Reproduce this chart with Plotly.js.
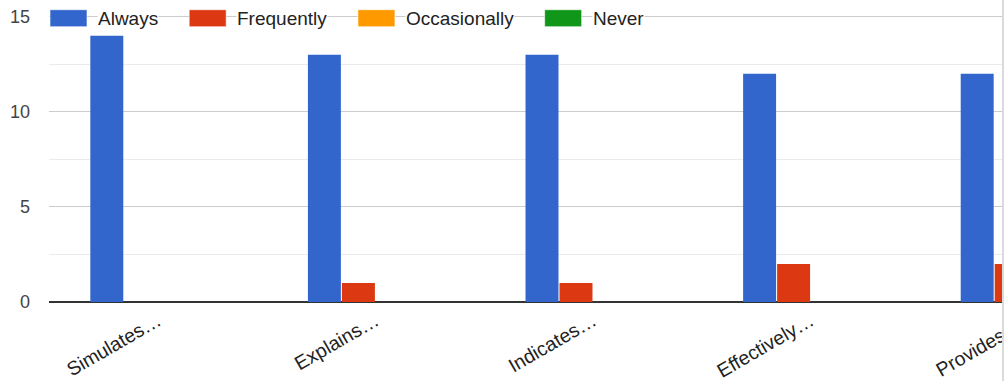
<!DOCTYPE html>
<html>
<head>
<meta charset="utf-8">
<script src="https://cdn.plot.ly/plotly-3.0.1.min.js"></script>
<style>
  html, body { margin: 0; padding: 0; background: #fff; overflow: hidden; }
  #wrap { width: 1002px; height: 381px; overflow: hidden; border-right: 2px solid #dadada; }
</style>
</head>
<body>
<div id="wrap"><div id="chart"></div></div>
<script>
// ---- data ----
const categories = ["Simulates\u2026", "Explains\u2026", "Indicates\u2026", "Effectively\u2026", "Provides t\u2026"];
const seriesNames = ["Always", "Frequently", "Occasionally", "Never"];
const always       = [14, 13, 13, 12, 12];
const frequently   = [0, 1, 1, 2, 2];
const occasionally = [0, 0, 0, 0, 0];
const never        = [0, 0, 0, 0, 0];
const colors = ["#3366cc", "#dc3912", "#ff9900", "#109618"];
const yTicks = [0, 5, 10, 15];

const seriesValues = [always, frequently, occasionally, never];
const FONT = "'Liberation Sans', Arial, sans-serif";

const traces = seriesNames.map((name, i) => ({
  type: "bar",
  name: name,
  x: categories,
  y: seriesValues[i],
  marker: { color: colors[i] },
  hoverinfo: "none",
  showlegend: false
}));

// layout geometry (y range a bit above 15 so the 15 grid line sits inside the plot)
const yMax = 15.3;
const pxPerUnit = 19;
const mL = 49, mB = 79, mR = 10;
const plotW = 1088, H = 381;
const plotH = yMax * pxPerUnit;
const mT = H - mB - plotH;
const W = mL + plotW + mR;

const shapes = [], annotations = [];

// custom legend (wide swatches like the original)
const cv = document.createElement("canvas").getContext("2d");
cv.font = "19px 'Liberation Sans'";
let px = 50;
const boxW = 37, boxTop = 10, boxBot = 27, textGap = 10, itemGap = 32;
const toX = p => (p - mL) / plotW;
const toY = p => 1 - (p - mT) / plotH;
seriesNames.forEach((name, i) => {
  shapes.push({
    type: "rect", xref: "paper", yref: "paper", layer: "above",
    x0: toX(px), x1: toX(px + boxW), y0: toY(boxBot), y1: toY(boxTop),
    fillcolor: colors[i], line: { width: 1, color: "rgba(255,255,255,0.6)" }
  });
  const tx = px + boxW + textGap;
  annotations.push({
    xref: "paper", yref: "paper", x: toX(tx), y: toY(18.5),
    xanchor: "left", yanchor: "middle", showarrow: false,
    text: name, bgcolor: "#ffffff", borderpad: 0,
    font: { family: FONT, size: 19, color: "#222222" }
  });
  px = tx + cv.measureText(name).width + itemGap;
});

const layout = {
  width: W, height: H,
  margin: { l: mL, r: mR, t: mT, b: mB, pad: 0 },
  paper_bgcolor: "#ffffff", plot_bgcolor: "#ffffff",
  barmode: "group", bargap: 0.375, bargroupgap: 0.03,
  showlegend: false,
  font: { family: FONT, size: 18, color: "#222222" },
  xaxis: {
    type: "category", range: [-0.5, categories.length - 0.5],
    tickangle: -30, showgrid: false, showline: false, zeroline: false,
    ticks: "", ticklabelstandoff: 3, fixedrange: true,
    tickfont: { family: FONT, size: 19.5, color: "#222222" }
  },
  yaxis: {
    range: [0, yMax], tickmode: "array", tickvals: yTicks, ticktext: yTicks.map(String),
    showgrid: true, gridcolor: "#cccccc", gridwidth: 1,
    minor: { dtick: 2.5, showgrid: true, gridcolor: "#ebebeb", gridwidth: 1 },
    zeroline: true, zerolinecolor: "#333333", zerolinewidth: 2,
    showline: false, ticks: "", ticklabelstandoff: 18, fixedrange: true,
    tickfont: { family: FONT, size: 18, color: "#444444" }
  },
  shapes: shapes,
  annotations: annotations
};

Plotly.newPlot("chart", traces, layout, { displayModeBar: false, staticPlot: true });
</script>
</body>
</html>
